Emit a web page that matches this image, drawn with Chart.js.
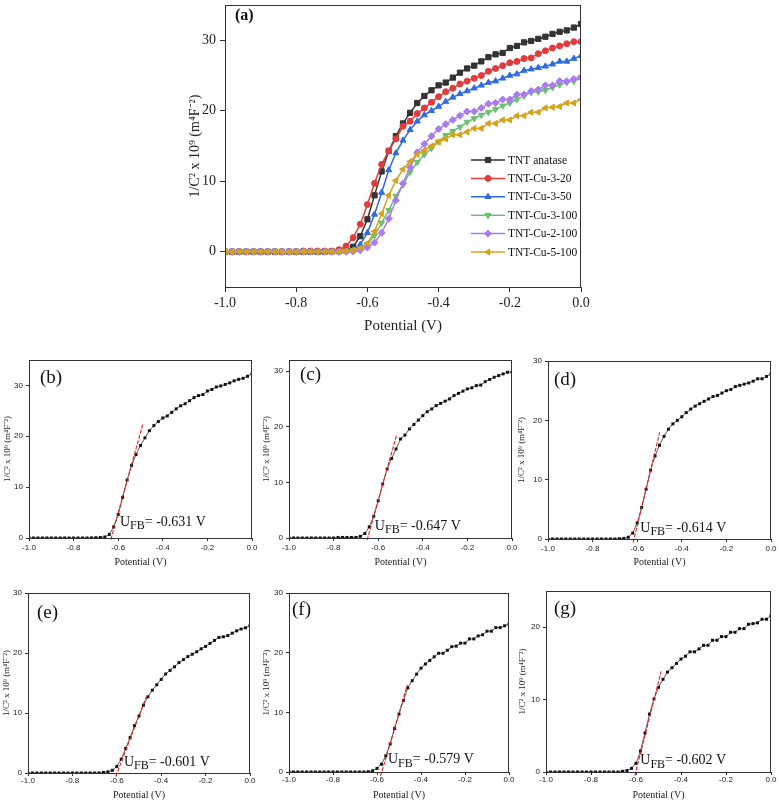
<!DOCTYPE html>
<html>
<head>
<meta charset="utf-8">
<script src="https://cdn.jsdelivr.net/npm/chart.js@4.4.0/dist/chart.umd.min.js"></script>
<style>
  body { margin:0; background:#fff; }
  #wrap { position:relative; width:779px; height:803px; }
  canvas { position:absolute; }
</style>
</head>
<body>
<div id="wrap">
  <canvas id="pa"></canvas>
  <canvas id="pb"></canvas>
  <canvas id="pc"></canvas>
  <canvas id="pd"></canvas>
  <canvas id="pe"></canvas>
  <canvas id="pf"></canvas>
  <canvas id="pg"></canvas>
</div>
<script>
// ---- data ----
const potential = [-1.00,-0.98,-0.96,-0.94,-0.92,-0.90,-0.88,-0.86,-0.84,-0.82,-0.80,-0.78,-0.76,-0.74,-0.72,-0.70,-0.68,-0.66,-0.64,-0.62,-0.60,-0.58,-0.56,-0.54,-0.52,-0.50,-0.48,-0.46,-0.44,-0.42,-0.40,-0.38,-0.36,-0.34,-0.32,-0.30,-0.28,-0.26,-0.24,-0.22,-0.20,-0.18,-0.16,-0.14,-0.12,-0.10,-0.08,-0.06,-0.04,-0.02,0.00];

const tntAnatase = [0,0,0,0,0,0,0,0,0,0,0,0,0,0,0.02,0.05,0.1,0.2,0.7,2.2,4.6,8.0,11.4,14.3,16.4,18.2,19.7,21.1,22.1,22.9,23.6,24.0,24.7,25.4,26.0,26.4,27.0,27.6,28.0,28.2,28.9,29.2,29.7,29.9,30.2,30.5,30.9,31.2,31.4,31.8,32.3];
const tntCu3_20 = [0,0,0,0,0,0,0,0,0,0,0,0.1,0.1,0.1,0.1,0.1,0.3,0.8,2.0,3.9,6.7,9.7,12.4,14.3,16.0,17.8,18.5,19.6,20.4,21.2,22.0,22.7,23.2,23.8,24.2,24.6,25.0,25.6,26.0,26.4,26.8,27.0,27.4,27.5,28.1,28.5,28.9,29.2,29.5,29.8,29.8];
const tntCu3_50 = [0,0,0,0,0,0,0,0,0,0,0,0,0,0,0,0,0.05,0.1,0.3,1.0,2.7,5.3,8.4,11.6,14.0,15.8,17.3,18.5,19.4,20.0,20.6,21.3,21.9,22.4,22.8,23.2,23.6,24.0,24.2,24.6,25.0,25.2,25.7,25.9,26.1,26.3,26.6,27.0,27.0,27.4,27.8];
const tntCu3_100 = [0,0,0,0,0,0,0,0,0,0,0,0,0,0,0,0,0,0.1,0.2,0.45,1.1,2.3,4.1,5.9,7.9,9.5,11.3,12.7,13.8,14.7,15.6,16.5,17.1,17.7,18.4,18.9,19.4,19.8,20.2,20.7,21.1,21.6,22.1,22.6,22.7,22.9,23.3,23.7,24.0,24.2,24.6];
const tntCu2_100 = [0,0,0,0,0,0,0,0,0,0,0,0,0,0,0,0,0,0,0.05,0.2,0.6,1.3,2.7,4.7,7.3,9.7,12.0,14.1,15.3,16.4,17.4,18.1,18.7,19.3,19.9,19.9,20.4,21.0,21.1,21.6,21.6,22.3,22.3,22.8,23.0,23.6,23.6,24.2,24.2,24.5,24.8];
const tntCu5_100 = [0,0,0,0,0,0,0,0,0,0,0,0,0,0,0,0,0,0.1,0.2,0.5,1.2,2.9,5.4,8.0,10.1,11.7,12.8,13.8,14.4,15.0,15.6,16.0,16.6,16.6,17.0,17.5,17.5,18.2,18.2,18.7,18.7,19.3,19.3,19.8,19.8,20.4,20.5,20.6,21.1,21.1,21.6];

const seriesNames = ["TNT anatase","TNT-Cu-3-20","TNT-Cu-3-50","TNT-Cu-3-100","TNT-Cu-2-100","TNT-Cu-5-100"];
const seriesValues = [tntAnatase, tntCu3_20, tntCu3_50, tntCu3_100, tntCu2_100, tntCu5_100];

// flat-band fits for panels (b)-(g)
const panelTags = ["(b)","(c)","(d)","(e)","(f)","(g)"];
const flatBand = [-0.631,-0.647,-0.614,-0.601,-0.579,-0.602];
const fitX = [[-0.633,-0.490],[-0.650,-0.517],[-0.618,-0.499],[-0.605,-0.466],[-0.584,-0.462],[-0.605,-0.488]];
const fitY = [[-0.3,22.3],[-0.4,18.6],[-0.6,18.0],[-0.6,12.8],[-0.7,14.6],[-0.5,13.9]];
const noteX = [-0.592,-0.615,-0.586,-0.568,-0.550,-0.581];
const noteY = [3.1,2.1,1.8,1.8,2.1,1.6];

const xTicks = [-1.0,-0.8,-0.6,-0.4,-0.2,0.0];
const yTicksA = [0,10,20,30];
const yTicksSub = [[0,10,20,30],[0,10,20,30],[0,10,20,30],[0,10,20,30],[0,10,20,30],[0,10,20]];
const yMaxSub = [35,32,30,30,30,25];

// ---- styles ----
const colors = ["#333333","#e23b3b","#2f6be2","#6cc070","#a97af2","#d6a21a"];
const markers = ["rect","circle","triangle","triangle","rectRot","triangle"];
const markerRot = [0,0,0,180,0,-90];
const markerSize = [3.7,3.0,3.5,3.5,3.5,3.5];
const SERIF = '"Liberation Serif", "Times New Roman", serif';
const SANS = '"Liberation Sans", Arial, sans-serif';
const YTITLE = '1/C\u00B2 x 10\u2079 (m\u2074F\u207B\u00B2)';

// canvas placement and plot-area box inside each canvas
const panels = {
  a: {id:'pa', left:170, top:0,   w:430, h:340, area:{left:55, top:2,  right:411, bottom:287}},
  b: {id:'pb', left:0,   top:355, w:260, h:220, area:{left:29, top:5,  right:252, bottom:183}, tag:[11,18], titleY:207, ytitleX:8, tickPad:2},
  c: {id:'pc', left:260, top:355, w:260, h:220, area:{left:29, top:5,  right:252, bottom:183}, tag:[11,15], titleY:207, ytitleX:7, tickPad:2},
  d: {id:'pd', left:515, top:355, w:264, h:220, area:{left:33, top:6,  right:256, bottom:184}, tag:[6,19],  titleY:207, ytitleX:7, tickPad:2},
  e: {id:'pe', left:0,   top:575, w:260, h:228, area:{left:28, top:18, right:250, bottom:198}, tag:[9,20],  titleY:220, ytitleX:7, tickPad:0},
  f: {id:'pf', left:260, top:575, w:260, h:228, area:{left:29, top:18, right:249, bottom:197}, tag:[3,17],  titleY:220, ytitleX:7, tickPad:0},
  g: {id:'pg', left:515, top:575, w:264, h:228, area:{left:31, top:16, right:256, bottom:197}, tag:[8,18],  titleY:220, ytitleX:8, tickPad:0}
};

function fmt1(v) { return Math.abs(v) < 1e-9 ? "0.0" : Number(v).toFixed(1); }
function toPts(ys) { return potential.map((x, i) => ({x: x, y: ys[i]})); }

function setupCanvas(p) {
  const c = document.getElementById(p.id);
  c.width = p.w; c.height = p.h;
  c.style.left = p.left + 'px'; c.style.top = p.top + 'px';
  c.style.width = p.w + 'px'; c.style.height = p.h + 'px';
  return c;
}

function makeScales(p, o) {
  const xLine = o.xTitleSize * 1.2, yLine = o.yTitleSize * 1.2;
  return {
    x: {
      type: 'linear', min: -1, max: 0,
      afterBuildTicks: s => { s.ticks = xTicks.map(v => ({value: v})); },
      afterFit: s => { s.height = p.h - p.area.bottom; s.paddingLeft = 0; s.paddingRight = 0; },
      grid: {drawOnChartArea: false, drawTicks: true, tickLength: o.tickLen, color: '#333', lineWidth: 1},
      border: {display: false},
      ticks: {color: '#222', font: {family: o.tickFamily, size: o.tickSize}, padding: o.tickPad,
              maxRotation: 0, autoSkip: false, callback: v => fmt1(v)},
      title: {display: true, text: 'Potential (V)', color: '#222',
              font: {family: SERIF, size: o.xTitleSize},
              padding: {top: 0, bottom: Math.max(0, p.h - o.titleY - xLine / 2)}}
    },
    y: {
      type: 'linear', min: o.yMin, max: o.yMax,
      afterBuildTicks: s => { s.ticks = o.yTicks.map(v => ({value: v})); },
      afterFit: s => { s.width = p.area.left; s.paddingTop = 0; s.paddingBottom = 0; },
      grid: {drawOnChartArea: false, drawTicks: true, tickLength: o.tickLen, color: '#333', lineWidth: 1},
      border: {display: false},
      ticks: {color: '#222', font: {family: o.tickFamily, size: o.tickSize}, padding: o.yTickPad,
              autoSkip: false, callback: v => String(v)},
      title: {display: true, text: YTITLE, color: '#222',
              font: {family: SERIF, size: o.yTitleSize},
              padding: {top: Math.max(0, o.ytitleX - yLine / 2), bottom: 0}}
    }
  };
}

function drawMarker(ctx, style, rot, r, x, y) {
  if (Chart.helpers && Chart.helpers.drawPoint) {
    Chart.helpers.drawPoint(ctx, {pointStyle: style, rotation: rot, radius: r, borderWidth: 1}, x, y);
  } else {
    ctx.beginPath(); ctx.arc(x, y, r, 0, Math.PI * 2); ctx.fill();
  }
}

function decorPlugin(opts) {
  return {
    id: 'decor',
    afterDraw(chart) {
      const a = chart.chartArea, ctx = chart.ctx;
      ctx.save();
      // box frame
      ctx.strokeStyle = '#333'; ctx.lineWidth = 1;
      ctx.strokeRect(Math.round(a.left) + 0.5, Math.round(a.top) + 0.5,
                     Math.round(a.right - a.left) - 1, Math.round(a.bottom - a.top));
      // panel tag
      ctx.fillStyle = '#111';
      ctx.textBaseline = 'middle'; ctx.textAlign = 'left';
      ctx.font = opts.tagFont;
      ctx.fillText(opts.tag, a.left + opts.tagPos[0], a.top + opts.tagPos[1]);
      // U_FB note
      if (opts.fb !== undefined) {
        let px = chart.scales.x.getPixelForValue(opts.noteX);
        const py = chart.scales.y.getPixelForValue(opts.noteY);
        ctx.font = '14px ' + SERIF;
        ctx.fillText('U', px, py); px += ctx.measureText('U').width;
        ctx.font = '12px ' + SERIF;
        ctx.fillText('FB', px, py + 4); px += ctx.measureText('FB').width;
        ctx.font = '14px ' + SERIF;
        ctx.fillText('= ' + opts.fb.toFixed(3) + ' V', px, py);
      }
      // legend for (a)
      if (opts.legend) {
        const x0 = a.left + 246, y0 = a.top + 155, dy = 18.4;
        seriesNames.forEach((name, i) => {
          const y = y0 + i * dy;
          ctx.strokeStyle = colors[i]; ctx.fillStyle = colors[i]; ctx.lineWidth = 1.5;
          ctx.beginPath(); ctx.moveTo(x0, y); ctx.lineTo(x0 + 34, y); ctx.stroke();
          ctx.lineWidth = 1;
          drawMarker(ctx, markers[i], markerRot[i], markerSize[i], x0 + 17, y);
          ctx.fillStyle = '#111';
          ctx.font = '11.5px ' + SERIF;
          ctx.fillText(name, x0 + 37, y + 0.5);
        });
      }
      ctx.restore();
    }
  };
}

const baseOptions = {
  responsive: false, animation: false, events: [],
  plugins: {legend: {display: false}, tooltip: {enabled: false}}
};

// ---- panel (a) ----
(function () {
  const p = panels.a;
  const c = setupCanvas(p);
  const datasets = seriesValues.map((vals, i) => ({
    label: seriesNames[i],
    data: toPts(vals),
    borderColor: colors[i], backgroundColor: colors[i],
    pointBackgroundColor: colors[i], pointBorderColor: colors[i],
    borderWidth: 1.5, pointBorderWidth: 1,
    pointStyle: markers[i], pointRotation: markerRot[i], pointRadius: markerSize[i],
    tension: 0, order: 6 - i
  }));
  new Chart(c, {
    type: 'line',
    data: {datasets},
    options: Object.assign({}, baseOptions, {
      layout: {padding: {left: 0, top: p.area.top, right: p.w - p.area.right, bottom: 0}},
      scales: makeScales(p, {
        yMin: -5, yMax: 35, yTicks: yTicksA, tickLen: 5, tickPad: 3, yTickPad: 4,
        tickFamily: SERIF, tickSize: 14, xTitleSize: 15, yTitleSize: 14,
        titleY: 326, ytitleX: 25
      })
    }),
    plugins: [decorPlugin({tag: '(a)', tagFont: 'bold 16px ' + SERIF, tagPos: [10, 11], legend: true})]
  });
})();

// ---- panels (b)-(g) ----
['b','c','d','e','f','g'].forEach((key, k) => {
  const p = panels[key];
  const c = setupCanvas(p);
  new Chart(c, {
    type: 'line',
    data: {datasets: [
      {
        data: toPts(seriesValues[k]),
        borderColor: '#333', borderWidth: 0.8,
        pointStyle: 'rect', pointRadius: 2.1, pointBorderWidth: 0,
        pointBackgroundColor: '#111', tension: 0, order: 1
      },
      {
        data: [{x: fitX[k][0], y: fitY[k][0]}, {x: fitX[k][1], y: fitY[k][1]}],
        borderColor: '#e8201c', borderWidth: 1.1, borderDash: [4, 1.5],
        pointRadius: 0, tension: 0, clip: false, order: 0
      }
    ]},
    options: Object.assign({}, baseOptions, {
      layout: {padding: {left: 0, top: p.area.top, right: p.w - p.area.right, bottom: 0}},
      scales: makeScales(p, {
        yMin: 0, yMax: yMaxSub[k], yTicks: yTicksSub[k], tickLen: 3, tickPad: p.tickPad, yTickPad: 3,
        tickFamily: SANS, tickSize: 8, xTitleSize: 10, yTitleSize: 9,
        titleY: p.titleY, ytitleX: p.ytitleX
      })
    }),
    plugins: [decorPlugin({
      tag: panelTags[k], tagFont: '19px ' + SERIF, tagPos: p.tag,
      fb: flatBand[k], noteX: noteX[k], noteY: noteY[k]
    })]
  });
});
</script>
</body>
</html>
